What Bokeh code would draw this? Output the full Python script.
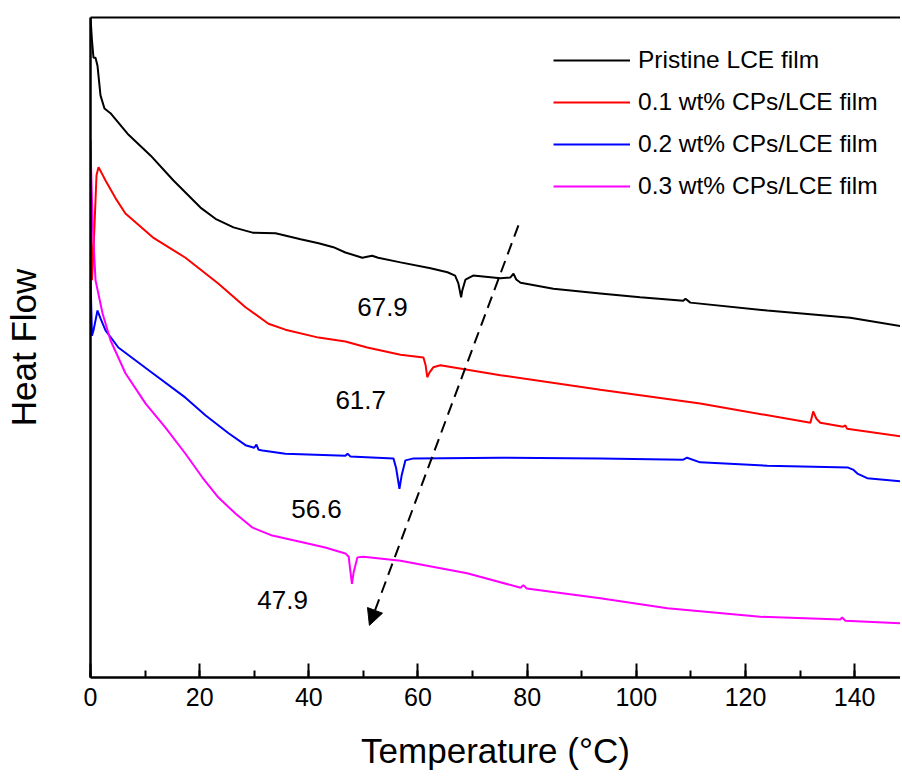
from bokeh.plotting import figure
from bokeh.models import (Range1d, SingleIntervalTicker, LinearAxis, FixedTicker,
                          Arrow, NormalHead, Legend, LegendItem, ColumnDataSource)
from bokeh.core.properties import value
from bokeh.embed import file_html
from bokeh.resources import INLINE

FONT = "Liberation Sans"

# ---------------- data (Temperature in °C, Heat Flow in arbitrary units) ----------------
black_t = [0.0, 0.27, 0.55, 0.92, 1.28, 1.83, 2.56, 3.66, 6.78, 10.99, 15.2, 20.15, 22.9, 26.2,
           29.7, 33.9, 38.5, 41.8, 44.5, 46.7, 49.8, 50.9, 51.6, 52.7, 56.8, 62.3, 65.4, 66.8,
           67.4, 67.9, 68.1, 68.7, 70.1, 75.1, 76.9, 77.5, 78.0, 78.8, 84.8, 93.4, 100.7, 108.6,
           109.0, 109.9, 124.0, 139.2, 148.7]
black_h = [100.0, 96.5, 93.9, 93.9, 92.7, 88.2, 86.2, 85.5, 82.4, 79.1, 75.3, 71.2, 69.5, 68.2,
           67.4, 67.3, 66.4, 65.8, 65.2, 64.4, 63.6, 63.8, 63.9, 63.6, 62.9, 62.0, 61.4, 60.9,
           59.7, 57.6, 58.6, 60.3, 60.9, 60.5, 60.6, 61.2, 60.3, 59.8, 58.9, 58.2, 57.6, 57.1,
           57.4, 56.8, 55.6, 54.5, 53.2]

red_t = [0.0, 0.27, 0.55, 1.1, 1.47, 2.0, 2.75, 4.6, 6.4, 11.4, 17.4, 23.4, 28.4, 32.6, 35.7,
         41.8, 46.7, 50.7, 56.8, 61.0, 61.4, 61.7, 62.1, 62.8, 64.1, 75.1, 93.4, 111.7, 131.9,
         132.4, 133.0, 133.7, 137.9, 138.3, 138.6, 148.7]
red_h = [81.4, 60.2, 64.7, 76.1, 77.3, 76.5, 75.3, 72.6, 70.3, 66.7, 63.6, 59.7, 56.1, 53.6, 52.7,
         51.5, 50.9, 50.0, 48.9, 48.5, 47.3, 45.5, 46.2, 47.0, 47.3, 45.8, 43.6, 41.5, 38.6,
         40.3, 39.2, 38.6, 38.0, 38.2, 37.7, 36.5]

blue_t = [0.0, 0.27, 0.55, 1.28, 1.83, 2.75, 5.1, 11.4, 17.4, 21.1, 25.3, 28.4, 30.0, 30.4, 30.8,
          31.5, 35.7, 46.7, 47.1, 47.6, 55.5, 56.0, 56.6, 57.0, 57.7, 59.2, 75.1, 93.4, 108.6,
          109.3, 111.7, 124.0, 138.8, 139.7, 140.5, 142.3, 148.7]
blue_h = [60.6, 51.8, 52.6, 55.6, 54.4, 52.6, 50.0, 46.1, 42.4, 39.7, 37.0, 35.2, 34.8, 35.3, 34.5,
          34.4, 33.9, 33.6, 33.9, 33.5, 33.2, 31.7, 28.6, 30.6, 32.9, 33.2, 33.3, 33.2, 33.0,
          33.3, 32.6, 32.1, 31.8, 31.5, 30.9, 30.2, 29.7]

mag_t = [0.0, 0.27, 0.55, 0.92, 2.2, 3.66, 6.4, 10.1, 13.7, 17.4, 20.5, 23.4, 26.6, 29.7, 33.3,
         38.8, 43.0, 46.7, 47.3, 47.6, 47.9, 48.2, 48.9, 50.0, 56.8, 69.0, 78.8, 79.3, 79.9,
         93.4, 105.7, 122.7, 137.4, 137.7, 138.3, 148.7]
mag_h = [80.6, 72.3, 66.2, 60.2, 55.2, 51.1, 46.1, 41.5, 37.9, 33.9, 30.3, 27.3, 24.8, 22.7, 21.5,
         20.5, 19.7, 18.8, 18.3, 16.2, 14.2, 15.9, 18.2, 18.3, 17.7, 15.8, 13.6, 14.0, 13.5,
         12.0, 10.5, 9.2, 8.8, 9.1, 8.6, 8.2]

series_names = ["Pristine LCE film", "0.1 wt% CPs/LCE film",
                "0.2 wt% CPs/LCE film", "0.3 wt% CPs/LCE film"]
series_colors = ["#000000", "#ff0000", "#0000ff", "#ff00ff"]

peak_labels = ["67.9", "61.7", "56.6", "47.9"]
peak_label_x = [53.5, 49.5, 41.4, 35.2]
peak_label_y = [56.1, 42.1, 25.6, 11.8]

arrow_start = (78.4, 68.5)
arrow_end = (51.1, 7.9)

x_ticks_interval = 20

# ---------------- figure ----------------
p = figure(width=900, height=776, output_backend="svg", toolbar_location=None,
           x_range=Range1d(0, 148.4), y_range=Range1d(0, 100),
           min_border_left=90, min_border_top=17, min_border_bottom=99, min_border_right=0,
           x_axis_label="Temperature (\u00b0C)", y_axis_label="Heat Flow")
p.outline_line_color = None
p.xgrid.visible = False
p.ygrid.visible = False
p.background_fill_color = "white"
p.border_fill_color = "white"

xa = p.xaxis[0]
xa.ticker = SingleIntervalTicker(interval=x_ticks_interval, num_minor_ticks=2)
xa.axis_line_width = 2.5
xa.major_tick_in = 14
xa.major_tick_out = 0
xa.minor_tick_in = 7
xa.minor_tick_out = 0
xa.major_tick_line_width = 2
xa.minor_tick_line_width = 2
xa.major_label_text_font = FONT
xa.major_label_text_font_size = "25px"
xa.major_label_text_color = "black"
xa.major_label_standoff = 10
xa.axis_label_text_font = FONT
xa.axis_label_text_font_size = "35px"
xa.axis_label_text_font_style = "normal"
xa.axis_label_text_color = "black"
xa.axis_label_standoff = 22

ya = p.yaxis[0]
ya.ticker = FixedTicker(ticks=[])
ya.axis_line_width = 2.5
ya.major_tick_in = 0
ya.major_tick_out = 0
ya.minor_tick_in = 0
ya.minor_tick_out = 0
ya.major_label_standoff = 0
ya.major_label_text_font_size = "0px"
ya.axis_label_text_font = FONT
ya.axis_label_text_font_size = "35px"
ya.axis_label_text_font_style = "normal"
ya.axis_label_text_color = "black"
ya.axis_label_standoff = 48

top = LinearAxis(ticker=FixedTicker(ticks=[]), axis_line_width=2,
                 major_tick_in=0, major_tick_out=0, minor_tick_in=0, minor_tick_out=0,
                 major_label_standoff=0, major_label_text_font_size="0px")
p.add_layout(top, "above")

all_t = [black_t, red_t, blue_t, mag_t]
all_h = [black_h, red_h, blue_h, mag_h]
items = []
for t, h, name, c in zip(all_t, all_h, series_names, series_colors):
    r = p.line(t, h, line_color=c, line_width=2)
    items.append(LegendItem(label=name, renderers=[r]))

legend = Legend(items=items, location=(463, 477), padding=0, margin=0,
                border_line_color=None, background_fill_alpha=0,
                glyph_width=77, glyph_height=28, label_height=28, label_standoff=8,
                spacing=14, label_text_font=FONT, label_text_font_size="24.5px",
                label_text_color="black")
p.add_layout(legend, "center")

src = ColumnDataSource(dict(x=peak_label_x, y=peak_label_y, text=peak_labels))
p.text(x="x", y="y", text="text", source=src, text_font=value(FONT),
       text_font_size="26px", text_align="center", text_baseline="middle", text_color="black")

arrow = Arrow(x_start=arrow_start[0], y_start=arrow_start[1], x_end=arrow_end[0], y_end=arrow_end[1],
              line_color="black", line_width=2, line_dash="12 7",
              end=NormalHead(size=16, fill_color="black", line_color="black", line_width=1))
p.add_layout(arrow)

open("out.html", "w").write(file_html(p, INLINE))
